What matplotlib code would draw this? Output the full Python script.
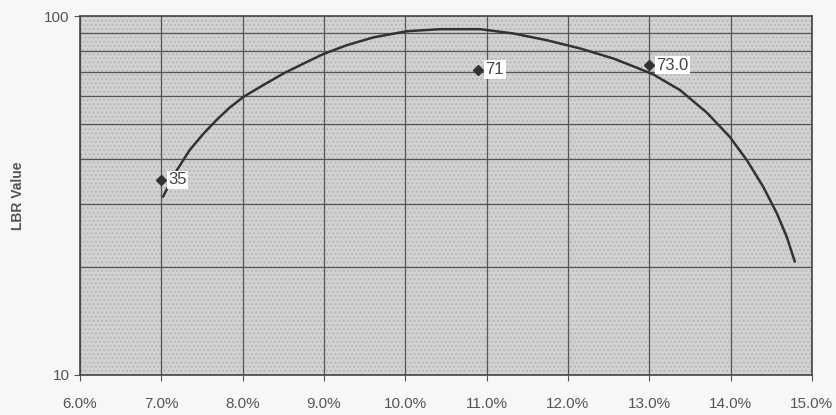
import numpy as np
import matplotlib.pyplot as plt
import matplotlib.ticker as mticker

plt.rcParams['font.family'] = ['Liberation Sans', 'DejaVu Sans']

# data points (rate %, LBR value)
pt_x = [7.0, 10.9, 13.0]
pt_y = [35, 71, 73]
pt_labels = ["35", "71", "73.0"]

# fitted curve
curve_x = [7.02, 7.19, 7.35, 7.52, 7.68, 7.84, 8.01, 8.25, 8.50, 8.75, 8.99, 9.28, 9.61,
           10.02, 10.43, 10.92, 11.33, 11.74, 12.15, 12.56, 12.85, 13.05, 13.38, 13.71,
           13.99, 14.20, 14.40, 14.57, 14.69, 14.79]
curve_y = [31.4, 37.2, 42.4, 47.1, 51.4, 55.6, 59.6, 64.2, 69.2, 73.8, 78.4, 83.0, 87.3,
           90.8, 92.0, 92.0, 89.5, 85.7, 81.3, 76.2, 71.8, 68.8, 62.2, 53.8,
           46.1, 39.7, 33.5, 28.2, 24.3, 20.7]

xticks = [6, 7, 8, 9, 10, 11, 12, 13, 14, 15]

fig = plt.figure(figsize=(8.37, 4.15), dpi=100)
fig.patch.set_facecolor('#f7f7f5')
ax = fig.add_axes([0.0956, 0.0964, 0.8744, 0.8646])
ax.set_facecolor('#d2d2d2')
ax.patch.set_hatch('....')
ax.patch.set_edgecolor('#b8b8b8')

ax.set_yscale('log')
ax.set_xlim(6, 15)
ax.set_ylim(10, 100)

ax.set_xticks(xticks)
ax.xaxis.set_major_formatter(mticker.FuncFormatter(lambda v, p: "%.1f%%" % v))
ax.set_yticks([10, 100])
ax.yaxis.set_major_formatter(mticker.FuncFormatter(lambda v, p: "%d" % v))
ax.yaxis.set_minor_locator(mticker.LogLocator(base=10, subs=np.arange(2, 10)))
ax.yaxis.set_minor_formatter(mticker.NullFormatter())

ax.grid(True, which='major', axis='x', color='#555555', lw=0.9)
ax.grid(True, which='minor', axis='y', color='#555555', lw=0.9)
ax.tick_params(axis='y', which='minor', length=0)
ax.tick_params(axis='both', which='major', labelsize=11, colors='#555555', length=4)
ax.tick_params(axis='x', pad=12)
for s in ax.spines.values():
    s.set_color('#444444')
    s.set_linewidth(1.2)

ax.plot(curve_x, curve_y, color='#333333', lw=1.8, solid_capstyle='round', solid_joinstyle='round')
ax.plot(pt_x, pt_y, 'D', color='#333333', ms=5, ls='none')
for x, y, t in zip(pt_x, pt_y, pt_labels):
    ax.annotate(t, (x, y), xytext=(5, 0), textcoords='offset points', va='center', ha='left',
                fontsize=12, color='#444444',
                bbox=dict(boxstyle='square,pad=0.1', fc='white', ec='none'))

ax.set_ylabel("LBR Value", fontsize=10, fontweight='bold', color='#555555', labelpad=14)

fig.savefig('out.png', dpi=100)
